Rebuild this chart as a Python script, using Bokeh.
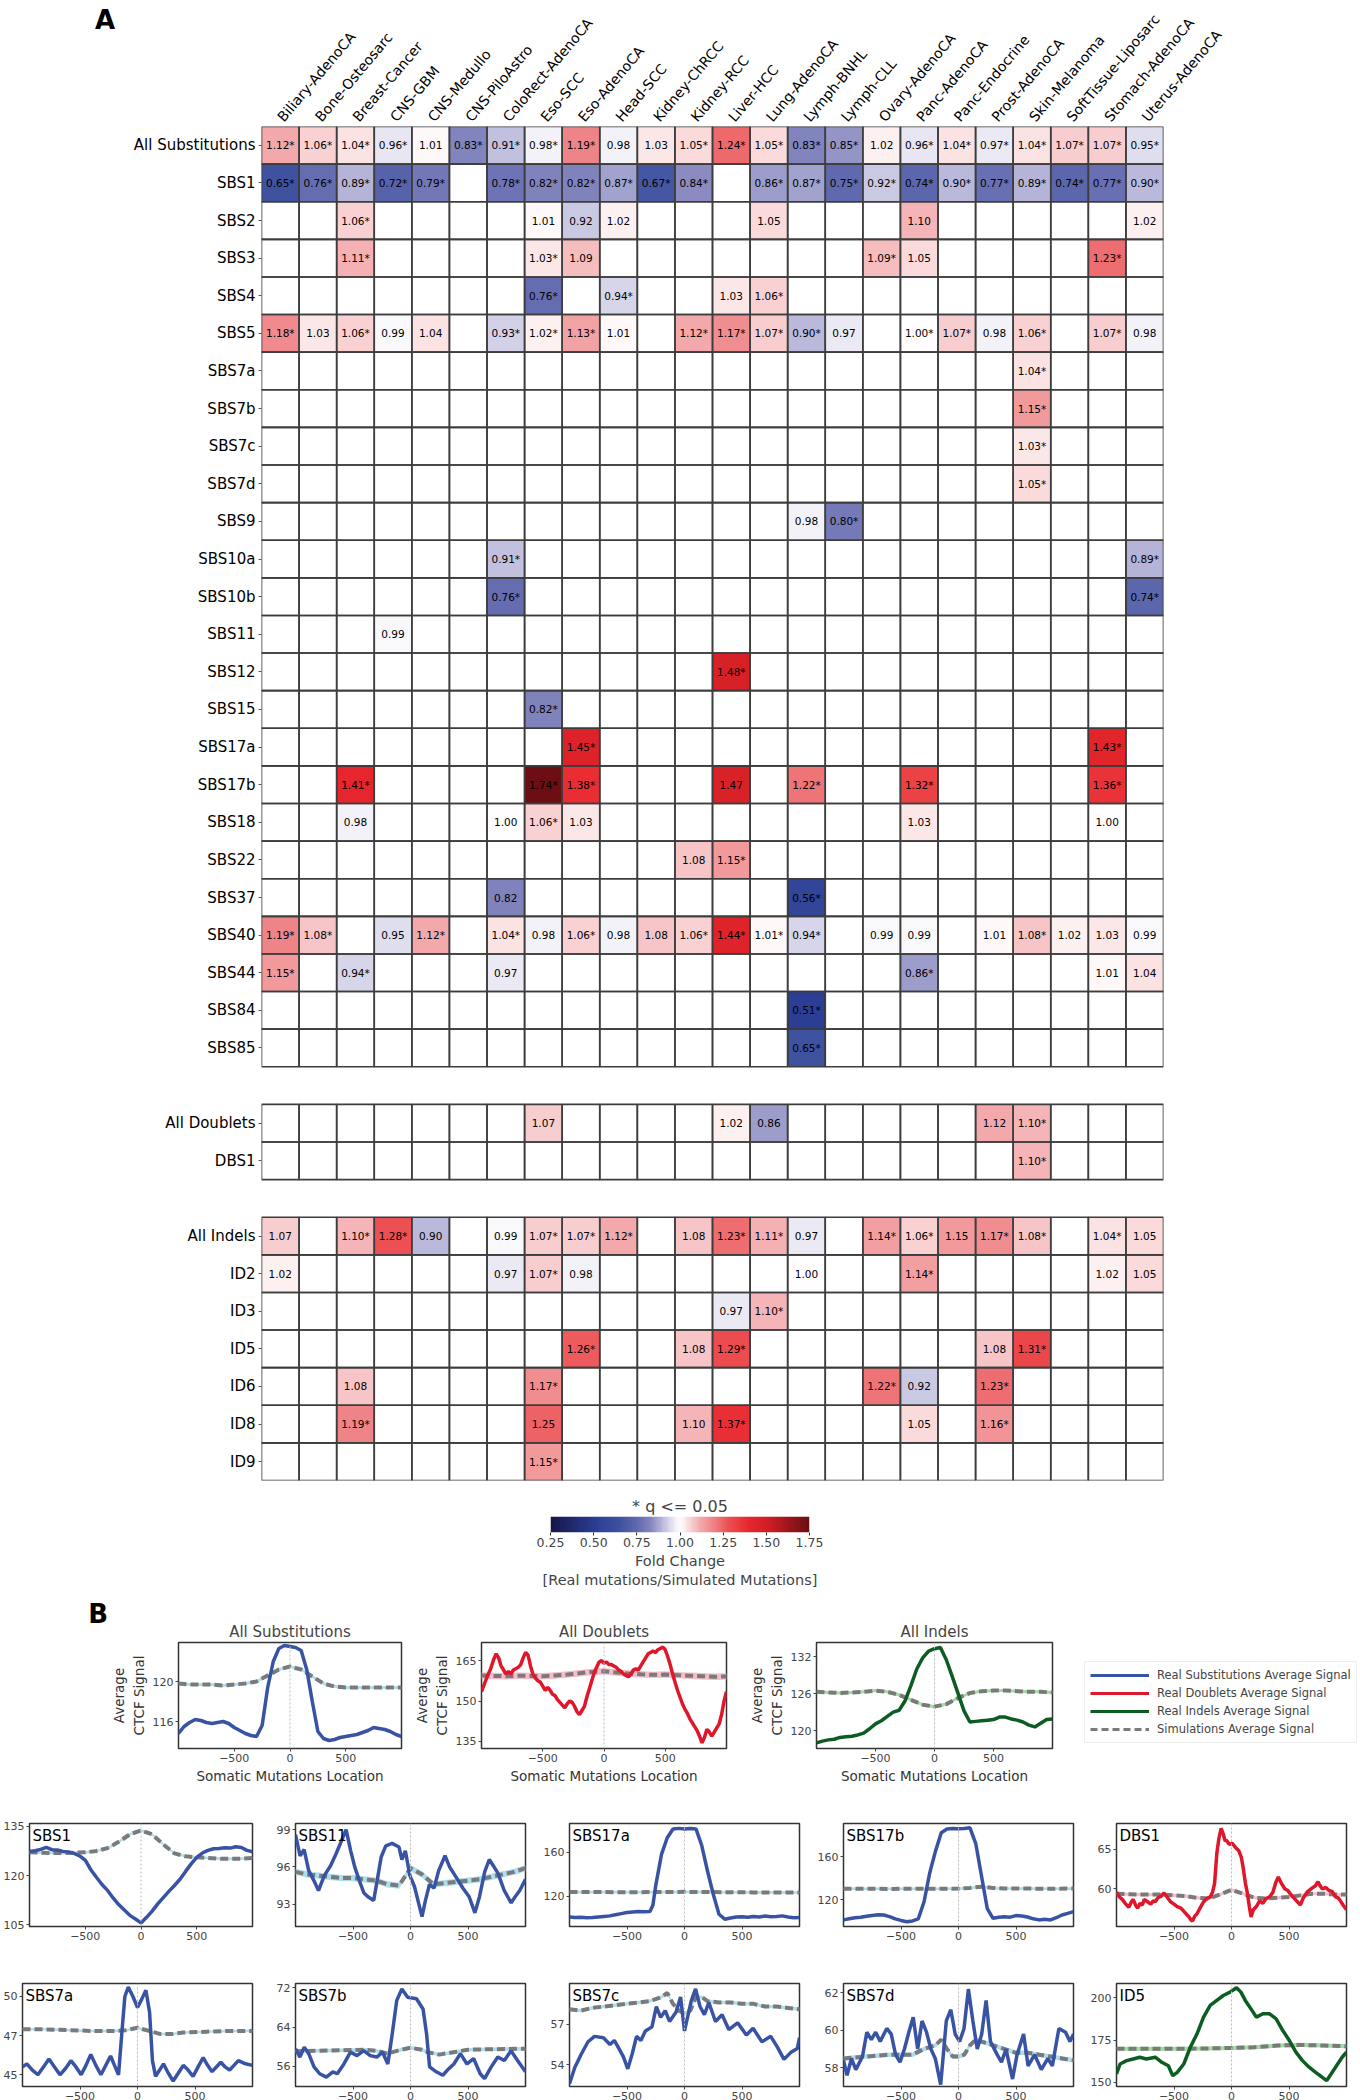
import numpy as np
from bokeh.plotting import figure
from bokeh.layouts import column, row, Spacer
from bokeh.models import (Range1d, FactorRange, FixedTicker, LinearColorMapper, ColumnDataSource,
                          Span, Legend, LegendItem, NumeralTickFormatter, Div)
from bokeh.transform import transform
from bokeh.core.properties import value
from bokeh.embed import file_html
from bokeh.resources import INLINE

FONT = "DejaVu Sans"

# ---------------------------------------------------------------- heatmap data
cancer_types = ["Biliary-AdenoCA", "Bone-Osteosarc", "Breast-Cancer", "CNS-GBM", "CNS-Medullo",
                "CNS-PiloAstro", "ColoRect-AdenoCA", "Eso-SCC", "Eso-AdenoCA", "Head-SCC",
                "Kidney-ChRCC", "Kidney-RCC", "Liver-HCC", "Lung-AdenoCA", "Lymph-BNHL",
                "Lymph-CLL", "Ovary-AdenoCA", "Panc-AdenoCA", "Panc-Endocrine", "Prost-AdenoCA",
                "Skin-Melanoma", "SoftTissue-Liposarc", "Stomach-AdenoCA", "Uterus-AdenoCA"]

all_substitutions = ["1.12*", "1.06*", "1.04*", "0.96*", "1.01", "0.83*", "0.91*", "0.98*", "1.19*", "0.98", "1.03", "1.05*",
                     "1.24*", "1.05*", "0.83*", "0.85*", "1.02", "0.96*", "1.04*", "0.97*", "1.04*", "1.07*", "1.07*", "0.95*"]
sbs1 = ["0.65*", "0.76*", "0.89*", "0.72*", "0.79*", "", "0.78*", "0.82*", "0.82*", "0.87*", "0.67*", "0.84*",
        "", "0.86*", "0.87*", "0.75*", "0.92*", "0.74*", "0.90*", "0.77*", "0.89*", "0.74*", "0.77*", "0.90*"]
sbs2 = {"Breast-Cancer": "1.06*", "Eso-SCC": "1.01", "Eso-AdenoCA": "0.92", "Head-SCC": "1.02",
        "Lung-AdenoCA": "1.05", "Panc-AdenoCA": "1.10", "Uterus-AdenoCA": "1.02"}
sbs3 = {"Breast-Cancer": "1.11*", "Eso-SCC": "1.03*", "Eso-AdenoCA": "1.09", "Ovary-AdenoCA": "1.09*",
        "Panc-AdenoCA": "1.05", "Stomach-AdenoCA": "1.23*"}
sbs4 = {"Eso-SCC": "0.76*", "Head-SCC": "0.94*", "Liver-HCC": "1.03", "Lung-AdenoCA": "1.06*"}
sbs5 = ["1.18*", "1.03", "1.06*", "0.99", "1.04", "", "0.93*", "1.02*", "1.13*", "1.01", "", "1.12*",
        "1.17*", "1.07*", "0.90*", "0.97", "", "1.00*", "1.07*", "0.98", "1.06*", "", "1.07*", "0.98"]
sbs7a = {"Skin-Melanoma": "1.04*"}
sbs7b = {"Skin-Melanoma": "1.15*"}
sbs7c = {"Skin-Melanoma": "1.03*"}
sbs7d = {"Skin-Melanoma": "1.05*"}
sbs9 = {"Lymph-BNHL": "0.98", "Lymph-CLL": "0.80*"}
sbs10a = {"ColoRect-AdenoCA": "0.91*", "Uterus-AdenoCA": "0.89*"}
sbs10b = {"ColoRect-AdenoCA": "0.76*", "Uterus-AdenoCA": "0.74*"}
sbs11 = {"CNS-GBM": "0.99"}
sbs12 = {"Liver-HCC": "1.48*"}
sbs15 = {"Eso-SCC": "0.82*"}
sbs17a = {"Eso-AdenoCA": "1.45*", "Stomach-AdenoCA": "1.43*"}
sbs17b = {"Breast-Cancer": "1.41*", "Eso-SCC": "1.74*", "Eso-AdenoCA": "1.38*", "Liver-HCC": "1.47",
          "Lymph-BNHL": "1.22*", "Panc-AdenoCA": "1.32*", "Stomach-AdenoCA": "1.36*"}
sbs18 = {"Breast-Cancer": "0.98", "ColoRect-AdenoCA": "1.00", "Eso-SCC": "1.06*", "Eso-AdenoCA": "1.03",
         "Panc-AdenoCA": "1.03", "Stomach-AdenoCA": "1.00"}
sbs22 = {"Kidney-RCC": "1.08", "Liver-HCC": "1.15*"}
sbs37 = {"ColoRect-AdenoCA": "0.82", "Lymph-BNHL": "0.56*"}
sbs40 = ["1.19*", "1.08*", "", "0.95", "1.12*", "", "1.04*", "0.98", "1.06*", "0.98", "1.08", "1.06*",
         "1.44*", "1.01*", "0.94*", "", "0.99", "0.99", "", "1.01", "1.08*", "1.02", "1.03", "0.99"]
sbs44 = {"Biliary-AdenoCA": "1.15*", "Breast-Cancer": "0.94*", "ColoRect-AdenoCA": "0.97",
         "Panc-AdenoCA": "0.86*", "Stomach-AdenoCA": "1.01", "Uterus-AdenoCA": "1.04"}
sbs84 = {"Lymph-BNHL": "0.51*"}
sbs85 = {"Lymph-BNHL": "0.65*"}
all_doublets = {"Eso-SCC": "1.07", "Liver-HCC": "1.02", "Lung-AdenoCA": "0.86", "Prost-AdenoCA": "1.12",
                "Skin-Melanoma": "1.10*"}
dbs1 = {"Skin-Melanoma": "1.10*"}
all_indels = ["1.07", "", "1.10*", "1.28*", "0.90", "", "0.99", "1.07*", "1.07*", "1.12*", "", "1.08",
              "1.23*", "1.11*", "0.97", "", "1.14*", "1.06*", "1.15", "1.17*", "1.08*", "", "1.04*", "1.05"]
id2 = {"Biliary-AdenoCA": "1.02", "ColoRect-AdenoCA": "0.97", "Eso-SCC": "1.07*", "Eso-AdenoCA": "0.98",
       "Lymph-BNHL": "1.00", "Panc-AdenoCA": "1.14*", "Stomach-AdenoCA": "1.02", "Uterus-AdenoCA": "1.05"}
id3 = {"Liver-HCC": "0.97", "Lung-AdenoCA": "1.10*"}
id5 = {"Eso-AdenoCA": "1.26*", "Kidney-RCC": "1.08", "Liver-HCC": "1.29*", "Prost-AdenoCA": "1.08",
       "Skin-Melanoma": "1.31*"}
id6 = {"Breast-Cancer": "1.08", "Eso-SCC": "1.17*", "Ovary-AdenoCA": "1.22*", "Panc-AdenoCA": "0.92",
       "Prost-AdenoCA": "1.23*"}
id8 = {"Breast-Cancer": "1.19*", "Eso-SCC": "1.25", "Kidney-RCC": "1.10", "Liver-HCC": "1.37*",
       "Panc-AdenoCA": "1.05", "Prost-AdenoCA": "1.16*"}
id9 = {"Eso-SCC": "1.15*"}

substitution_rows = [("All Substitutions", all_substitutions), ("SBS1", sbs1), ("SBS2", sbs2), ("SBS3", sbs3),
                     ("SBS4", sbs4), ("SBS5", sbs5), ("SBS7a", sbs7a), ("SBS7b", sbs7b), ("SBS7c", sbs7c),
                     ("SBS7d", sbs7d), ("SBS9", sbs9), ("SBS10a", sbs10a), ("SBS10b", sbs10b), ("SBS11", sbs11),
                     ("SBS12", sbs12), ("SBS15", sbs15), ("SBS17a", sbs17a), ("SBS17b", sbs17b), ("SBS18", sbs18),
                     ("SBS22", sbs22), ("SBS37", sbs37), ("SBS40", sbs40), ("SBS44", sbs44), ("SBS84", sbs84),
                     ("SBS85", sbs85)]
doublet_rows = [("All Doublets", all_doublets), ("DBS1", dbs1)]
indel_rows = [("All Indels", all_indels), ("ID2", id2), ("ID3", id3), ("ID5", id5), ("ID6", id6),
              ("ID8", id8), ("ID9", id9)]

colorbar_ticks = [0.25, 0.50, 0.75, 1.00, 1.25, 1.50, 1.75]

# ---------------------------------------------------------------- line panel data (x, signal)
subs_real = [(-1000, 114.8), (-950, 115.5), (-900, 115.9), (-850, 116.2), (-800, 116.1), (-750, 115.9), (-700, 115.8),
             (-650, 115.9), (-600, 116.0), (-550, 115.8), (-500, 115.4), (-450, 115.1), (-400, 114.8), (-350, 114.6),
             (-300, 114.5), (-250, 115.6), (-200, 119.4), (-150, 122.0), (-100, 123.3), (-50, 123.6), (0, 123.5),
             (50, 123.4), (100, 123.1), (150, 121.2), (200, 118.0), (250, 115.0), (300, 114.3), (350, 114.1),
             (400, 114.2), (450, 114.4), (500, 114.5), (550, 114.6), (600, 114.7), (650, 114.9), (700, 115.1),
             (750, 115.4), (800, 115.3), (850, 115.2), (900, 115.0), (950, 114.7), (1000, 114.5)]
subs_sim = [(-1000, 119.8), (-900, 119.7), (-800, 119.7), (-700, 119.7), (-600, 119.6), (-500, 119.7), (-400, 119.8),
            (-300, 120.0), (-200, 120.6), (-100, 121.2), (0, 121.5), (100, 121.2), (200, 120.5), (300, 119.8),
            (400, 119.5), (500, 119.4), (600, 119.4), (700, 119.4), (800, 119.4), (900, 119.4), (1000, 119.4)]
doub_real = [(-1000, 153.5), (-975, 156.5), (-950, 159.5), (-925, 162.0), (-900, 165.5), (-880, 167.5), (-860, 166.0),
             (-840, 163.0), (-820, 161.5), (-800, 160.0), (-780, 161.0), (-760, 160.0), (-740, 161.5), (-720, 162.0),
             (-700, 162.5), (-680, 163.5), (-660, 166.0), (-640, 168.0), (-620, 167.0), (-600, 163.0), (-580, 160.0),
             (-560, 158.5), (-540, 157.5), (-520, 157.0), (-500, 155.5), (-480, 154.0), (-460, 155.0), (-440, 154.0),
             (-420, 152.5), (-400, 152.0), (-380, 150.5), (-360, 149.5), (-340, 148.5), (-320, 147.5), (-300, 149.0),
             (-280, 150.0), (-260, 149.5), (-240, 148.0), (-220, 146.0), (-200, 145.0), (-180, 146.5), (-160, 148.0),
             (-140, 151.5), (-120, 154.5), (-100, 157.5), (-80, 160.5), (-60, 162.5), (-40, 164.5), (-20, 165.0),
             (0, 164.0), (20, 164.5), (40, 163.5), (60, 163.5), (80, 163.0), (100, 162.5), (120, 161.5), (140, 161.0),
             (160, 160.0), (180, 159.5), (200, 159.0), (220, 160.0), (240, 161.5), (260, 162.0), (280, 161.5),
             (300, 163.0), (320, 164.5), (340, 166.0), (360, 167.5), (380, 168.0), (400, 168.5), (420, 168.0),
             (440, 169.0), (460, 169.5), (480, 170.0), (500, 169.0), (520, 166.5), (540, 163.5), (560, 160.0),
             (580, 157.0), (600, 154.0), (620, 151.5), (640, 149.0), (660, 147.0), (680, 145.5), (700, 143.5),
             (720, 142.0), (740, 140.5), (760, 139.0), (780, 137.0), (800, 134.5), (820, 136.5), (840, 139.5),
             (860, 138.5), (880, 137.0), (900, 138.5), (920, 140.0), (940, 141.5), (960, 145.0), (980, 150.0),
             (1000, 153.5)]
doub_sim = [(-1000, 159.5), (-900, 159.3), (-800, 159.2), (-700, 159.4), (-600, 159.3), (-500, 159.2), (-400, 159.5),
            (-300, 159.8), (-200, 160.3), (-100, 160.8), (0, 161.0), (100, 160.6), (200, 160.2), (300, 159.9),
            (400, 159.7), (500, 159.8), (600, 159.6), (700, 159.4), (800, 159.2), (900, 159.0), (1000, 159.1)]
indel_real = [(-1000, 118.0), (-950, 118.3), (-900, 118.5), (-850, 118.6), (-800, 118.9), (-750, 119.0), (-700, 119.1),
              (-650, 119.3), (-600, 119.6), (-550, 120.3), (-500, 121.1), (-450, 121.6), (-400, 122.3), (-350, 123.0),
              (-300, 123.3), (-250, 124.8), (-200, 127.3), (-150, 130.0), (-100, 131.8), (-50, 132.9), (0, 133.3),
              (50, 133.5), (100, 131.5), (150, 128.8), (200, 126.0), (250, 123.2), (300, 121.4), (350, 121.5),
              (400, 121.6), (450, 121.7), (500, 121.8), (550, 122.2), (600, 122.2), (650, 121.9), (700, 121.7),
              (750, 121.4), (800, 120.9), (850, 120.6), (900, 121.2), (950, 121.8), (1000, 121.9)]
indel_sim = [(-1000, 126.3), (-900, 126.2), (-800, 126.1), (-700, 126.2), (-600, 126.3), (-500, 126.5), (-400, 126.3),
             (-300, 125.8), (-200, 125.0), (-100, 124.2), (0, 123.9), (100, 124.3), (200, 125.3), (300, 126.1),
             (400, 126.4), (500, 126.5), (600, 126.5), (700, 126.4), (800, 126.3), (900, 126.3), (1000, 126.2)]

sbs1_real = [(-1000, 127.4), (-950, 127.6), (-900, 128.0), (-850, 128.6), (-800, 127.9), (-750, 127.8), (-700, 127.4),
             (-650, 127.2), (-600, 126.8), (-550, 126.0), (-500, 124.7), (-450, 121.8), (-400, 119.5), (-350, 117.3),
             (-300, 115.5), (-250, 113.2), (-200, 111.2), (-150, 109.5), (-100, 107.9), (-50, 106.8), (0, 105.6),
             (50, 107.3), (100, 109.2), (150, 111.4), (200, 113.3), (250, 115.2), (300, 117.0), (350, 118.9),
             (400, 121.3), (450, 123.6), (500, 125.6), (550, 126.9), (600, 127.7), (650, 128.2), (700, 128.3),
             (750, 128.5), (800, 128.4), (850, 128.8), (900, 128.6), (950, 127.7), (1000, 127.3)]
sbs1_sim = [(-1000, 127.1), (-900, 127.0), (-800, 126.9), (-700, 126.9), (-600, 127.0), (-500, 127.1), (-400, 127.5),
            (-300, 128.4), (-200, 130.3), (-100, 132.6), (0, 133.8), (100, 132.6), (200, 129.5), (300, 126.8),
            (400, 125.9), (500, 125.6), (600, 125.4), (700, 125.2), (800, 125.1), (900, 125.2), (1000, 125.4)]
sbs11_real = [(-1000, 98.6), (-960, 96.9), (-925, 97.4), (-885, 95.7), (-840, 94.9), (-800, 94.1), (-750, 95.3),
              (-695, 96.1), (-650, 97.0), (-600, 98.1), (-560, 99.0), (-520, 97.3), (-485, 96.0), (-445, 94.9),
              (-405, 93.9), (-370, 93.6), (-320, 93.3), (-290, 94.9), (-255, 96.8), (-215, 97.7), (-160, 97.9),
              (-100, 97.6), (-75, 96.6), (-45, 97.3), (-5, 95.3), (35, 94.4), (70, 93.1), (100, 92.0), (130, 93.3),
              (165, 94.6), (205, 94.3), (245, 95.7), (300, 96.9), (340, 96.0), (395, 95.2), (455, 94.3), (510, 93.6),
              (560, 92.3), (600, 93.6), (645, 95.6), (685, 96.6), (720, 96.1), (760, 95.5), (815, 94.1), (875, 93.1),
              (910, 93.6), (950, 94.1), (1000, 95.0)]
sbs11_sim = [(-1000, 95.6), (-900, 95.4), (-800, 95.3), (-700, 95.2), (-600, 95.1), (-500, 95.1), (-400, 95.0),
             (-300, 94.9), (-200, 94.6), (-100, 94.5), (0, 95.9), (100, 95.4), (200, 94.6), (300, 94.7), (400, 94.8),
             (500, 94.9), (600, 95.0), (700, 95.2), (800, 95.4), (900, 95.6), (1000, 95.9)]
sbs17a_real = [(-1000, 101.5), (-950, 101.0), (-900, 101.3), (-850, 100.8), (-800, 101.0), (-750, 101.5), (-700, 102.0),
               (-650, 102.5), (-600, 103.5), (-550, 104.5), (-500, 105.5), (-450, 106.0), (-400, 106.5), (-350, 106.3),
               (-300, 106.5), (-275, 112.0), (-250, 130.0), (-200, 158.0), (-150, 173.0), (-100, 181.0), (-50, 181.5),
               (0, 181.0), (50, 181.3), (100, 181.0), (150, 166.0), (200, 143.0), (250, 122.0), (300, 104.0),
               (350, 99.5), (400, 100.5), (450, 101.5), (500, 101.8), (550, 101.3), (600, 102.0), (650, 101.5),
               (700, 102.3), (750, 101.8), (800, 102.0), (850, 102.5), (900, 101.5), (950, 100.8), (1000, 101.0)]
sbs17a_sim = [(-1000, 124.0), (-800, 124.0), (-600, 123.9), (-400, 123.9), (-200, 124.0), (0, 124.2), (200, 124.0),
              (400, 123.8), (600, 123.7), (800, 123.7), (1000, 123.6)]
sbs17b_real = [(-1000, 101.5), (-950, 102.5), (-900, 103.5), (-850, 104.0), (-800, 104.8), (-750, 105.5), (-700, 106.2),
               (-650, 106.0), (-600, 104.5), (-550, 102.5), (-500, 101.0), (-450, 99.8), (-400, 100.5), (-350, 102.5),
               (-300, 118.0), (-250, 145.0), (-200, 165.0), (-150, 182.0), (-100, 185.5), (-50, 185.8), (0, 185.6),
               (50, 185.9), (100, 186.5), (150, 172.0), (200, 142.0), (250, 112.0), (300, 103.0), (350, 104.0),
               (400, 104.5), (450, 104.0), (500, 105.5), (550, 105.0), (600, 104.2), (650, 102.5), (700, 101.5),
               (750, 102.0), (800, 101.5), (850, 103.5), (900, 106.0), (950, 107.5), (1000, 109.2)]
sbs17b_sim = [(-1000, 130.3), (-800, 130.2), (-600, 130.1), (-400, 130.2), (-200, 130.3), (0, 130.4), (100, 131.0),
              (200, 132.2), (300, 131.0), (400, 130.5), (600, 130.4), (800, 130.3), (1000, 130.4)]
dbs1_real = [(-1000, 59.6), (-975, 59.0), (-950, 58.7), (-925, 58.2), (-893, 57.7), (-870, 58.4), (-855, 58.7),
             (-835, 58.0), (-817, 57.6), (-795, 58.2), (-775, 58.0), (-759, 58.7), (-730, 58.4), (-702, 58.1),
             (-680, 58.5), (-664, 58.4), (-640, 58.9), (-610, 59.1), (-587, 59.5), (-560, 59.0), (-530, 58.4),
             (-500, 58.1), (-472, 57.8), (-440, 57.6), (-420, 57.3), (-396, 56.9), (-370, 56.5), (-350, 56.1),
             (-338, 56.0), (-320, 56.6), (-300, 56.9), (-270, 57.7), (-243, 58.4), (-215, 58.8), (-185, 59.0),
             (-165, 59.6), (-147, 60.7), (-128, 64.4), (-110, 66.3), (-90, 67.6), (-70, 66.8), (-55, 66.0),
             (-44, 66.1), (-20, 65.6), (6, 65.7), (35, 65.2), (63, 64.8), (85, 64.0), (101, 62.7), (120, 60.8),
             (139, 59.4), (155, 57.8), (170, 56.5), (190, 57.4), (216, 57.8), (245, 58.5), (273, 58.2), (300, 58.8),
             (331, 59.0), (360, 59.6), (385, 60.8), (407, 61.5), (430, 60.8), (465, 60.0), (490, 59.8), (522, 59.2),
             (560, 58.6), (599, 58.0), (625, 58.9), (657, 59.6), (700, 60.1), (730, 60.4), (752, 60.9), (775, 60.3),
             (790, 60.0), (820, 60.2), (847, 59.8), (875, 59.7), (905, 59.0), (925, 58.9), (943, 58.6), (970, 58.0),
             (1000, 57.4)]
dbs1_sim = [(-1000, 59.4), (-800, 59.3), (-600, 59.3), (-400, 59.1), (-300, 58.9), (-200, 58.8), (-100, 59.3),
            (0, 59.9), (100, 59.4), (200, 58.9), (300, 58.8), (400, 58.9), (500, 59.0), (600, 59.2), (700, 59.4),
            (800, 59.4), (900, 59.3), (1000, 59.3)]
sbs7a_real = [(-1000, 45.5), (-962, 45.7), (-914, 45.3), (-866, 45.0), (-818, 45.5), (-770, 46.0), (-722, 45.5),
              (-674, 45.0), (-626, 45.4), (-579, 45.9), (-535, 45.5), (-490, 45.0), (-448, 45.6), (-406, 46.3),
              (-362, 45.6), (-318, 45.0), (-276, 45.6), (-234, 46.2), (-200, 45.6), (-165, 45.0), (-138, 47.5),
              (-110, 50.0), (-80, 50.6), (-40, 50.0), (0, 49.3), (35, 49.8), (73, 50.4), (105, 49.0), (130, 45.9),
              (157, 44.9), (192, 45.3), (226, 45.7), (268, 45.1), (310, 44.6), (354, 45.1), (398, 45.6), (440, 45.3),
              (483, 44.9), (527, 45.5), (571, 46.1), (610, 45.6), (648, 45.2), (686, 45.5), (724, 45.8), (762, 45.5),
              (801, 45.3), (839, 45.6), (877, 45.9), (940, 45.7), (1000, 45.6)]
sbs7a_sim = [(-1000, 47.9), (-800, 47.9), (-600, 47.85), (-400, 47.8), (-200, 47.8), (-100, 47.85), (0, 48.0),
             (100, 47.8), (200, 47.6), (300, 47.6), (400, 47.7), (600, 47.75), (800, 47.8), (1000, 47.8)]
sbs7b_real = [(-1000, 59.6), (-962, 57.9), (-924, 59.9), (-885, 58.6), (-839, 55.9), (-790, 54.5), (-732, 53.8),
              (-675, 54.9), (-637, 54.5), (-579, 56.5), (-522, 58.9), (-465, 58.2), (-407, 59.2), (-350, 58.2),
              (-293, 57.9), (-243, 58.9), (-197, 56.5), (-159, 62.6), (-120, 69.4), (-75, 71.8), (-25, 70.1),
              (52, 69.8), (109, 67.7), (140, 62.6), (166, 55.9), (224, 54.9), (281, 54.2), (319, 55.2), (377, 56.5),
              (434, 58.6), (491, 56.5), (549, 57.6), (606, 54.5), (644, 53.5), (702, 55.9), (759, 57.9), (816, 57.2),
              (874, 59.2), (931, 57.2), (1000, 54.9)]
sbs7b_sim = [(-1000, 59.1), (-800, 59.2), (-600, 59.3), (-400, 59.4), (-300, 59.2), (-200, 58.6), (-100, 59.3),
             (0, 59.8), (100, 59.4), (150, 58.9), (250, 58.4), (400, 59.0), (500, 59.4), (700, 59.5), (1000, 59.6)]
sbs7c_real = [(-1000, 52.6), (-954, 53.8), (-897, 54.8), (-839, 55.7), (-782, 56.1), (-705, 56.0), (-648, 55.5),
              (-610, 55.8), (-570, 55.2), (-532, 54.6), (-493, 53.7), (-455, 54.8), (-417, 56.1), (-379, 55.8),
              (-340, 56.5), (-283, 56.8), (-245, 58.3), (-207, 57.5), (-168, 58.0), (-130, 57.2), (-73, 57.9),
              (-34, 59.0), (0, 56.5), (58, 58.7), (96, 59.6), (135, 58.3), (173, 57.7), (212, 58.6), (269, 57.2),
              (327, 57.7), (385, 56.6), (462, 57.1), (538, 56.2), (596, 56.7), (673, 55.7), (750, 56.1), (808, 55.3),
              (865, 54.4), (923, 54.9), (981, 55.2), (1000, 56.0)]
sbs7c_sim = [(-1000, 58.1), (-900, 58.0), (-800, 58.2), (-600, 58.4), (-400, 58.6), (-300, 58.7), (-200, 59.0),
             (-150, 59.3), (-100, 58.5), (-50, 58.0), (0, 57.8), (50, 58.0), (100, 59.0), (150, 59.0), (200, 58.7),
             (300, 58.6), (400, 58.6), (500, 58.5), (600, 58.5), (700, 58.3), (800, 58.3), (900, 58.2), (1000, 58.1)]
sbs7d_real = [(-1000, 58.4), (-969, 57.6), (-931, 58.5), (-893, 57.9), (-835, 58.6), (-797, 59.9), (-758, 59.5),
              (-720, 59.9), (-681, 59.4), (-624, 60.1), (-585, 59.8), (-547, 58.7), (-509, 58.3), (-470, 59.0),
              (-432, 59.9), (-394, 60.7), (-355, 59.0), (-317, 60.5), (-278, 59.9), (-240, 59.0), (-202, 58.5),
              (-155, 57.1), (-106, 60.5), (-67, 61.1), (-29, 59.8), (10, 59.4), (48, 60.1), (86, 62.2), (125, 60.5),
              (163, 59.0), (202, 59.8), (240, 61.6), (278, 59.4), (336, 58.7), (374, 58.3), (413, 59.0), (470, 57.4),
              (509, 58.7), (566, 59.8), (605, 58.1), (662, 58.7), (720, 57.9), (777, 58.5), (816, 58.1), (873, 60.1),
              (931, 59.9), (969, 59.4), (1000, 59.8)]
sbs7d_sim = [(-1000, 58.5), (-800, 58.6), (-600, 58.7), (-400, 58.7), (-300, 59.0), (-200, 59.2), (-150, 59.5),
             (-100, 59.0), (-50, 58.6), (0, 58.6), (50, 58.7), (100, 59.2), (150, 59.5), (200, 59.4), (300, 59.2),
             (400, 59.0), (500, 58.8), (600, 58.8), (700, 58.7), (800, 58.6), (900, 58.5), (1000, 58.4)]
id5_real = [(-1000, 155.0), (-969, 160.9), (-912, 162.9), (-855, 163.9), (-797, 164.9), (-740, 163.9), (-663, 164.9),
            (-606, 161.9), (-549, 159.9), (-511, 154.0), (-472, 156.0), (-415, 160.9), (-358, 170.8), (-300, 178.7),
            (-243, 188.6), (-185, 195.5), (-128, 198.5), (-71, 201.4), (-13, 203.4), (44, 206.0), (82, 203.4),
            (120, 198.5), (178, 192.6), (216, 188.6), (273, 190.6), (331, 190.6), (388, 187.6), (446, 180.7),
            (503, 174.8), (560, 167.9), (617, 162.9), (675, 159.0), (732, 156.0), (790, 153.0), (828, 151.1),
            (866, 155.0), (923, 160.9), (962, 164.9), (1000, 167.9)]
id5_sim = [(-1000, 169.9), (-800, 169.9), (-600, 169.9), (-400, 169.9), (-200, 170.1), (0, 170.4), (200, 170.8),
           (400, 171.8), (600, 172.2), (800, 171.8), (1000, 171.4)]

# ---------------------------------------------------------------- styles
BLUE, RED, GREEN = "#3953a4", "#e0162b", "#0d5c22"
BAND_BLUE, BAND_RED, BAND_GREEN = "#a8dcee", "#f5b8c6", "#98dc98"
SIM_GRAY = "#7a7a7a"

stops = [(0.25, "#16164a"), (0.50, "#2a3d93"), (0.65, "#3f52a0"), (0.75, "#6069ae"), (0.83, "#8485be"),
         (0.90, "#bcbadc"), (0.96, "#e6e5f1"), (1.00, "#ffffff"), (1.04, "#fbe1e2"), (1.12, "#f3a8ab"),
         (1.20, "#ef8084"), (1.28, "#ec5052"), (1.40, "#e8262d"), (1.50, "#d41f26"), (1.75, "#6b0f12")]


def hex2rgb(h):
    return np.array([int(h[i:i + 2], 16) for i in (1, 3, 5)], dtype=float)


def build_palette(n=256):
    sv = np.array([s[0] for s in stops])
    sc = np.array([hex2rgb(s[1]) for s in stops])
    out = []
    for t in np.linspace(0.25, 1.75, n):
        rgb = [np.interp(t, sv, sc[:, k]) for k in range(3)]
        out.append("#%02x%02x%02x" % tuple(int(round(c)) for c in rgb))
    return out


mapper = LinearColorMapper(palette=build_palette(), low=0.25, high=1.75)


def letter_div(letter, w, h, pad_top):
    return Div(text=letter, width=w, height=h, margin=0,
               styles={"font-family": FONT, "font-size": "26px", "font-weight": "bold", "color": "black",
                       "text-align": "right", "padding-top": "%dpx" % pad_top, "line-height": "1.2",
                       "box-sizing": "border-box"})


# ---------------------------------------------------------------- heatmap figure
def entries(d):
    if isinstance(d, dict):
        return [(k, v) for k, v in d.items()]
    return [(cancer_types[i], v) for i, v in enumerate(d) if v]


row_pos, row_names = [], []
cx, cy, cv, ct = [], [], [], []
gx, gy = [], []
pos = 0
for bi, block in enumerate([substitution_rows, doublet_rows, indel_rows]):
    if bi > 0:
        pos += 1
    for name, d in block:
        row_pos.append(pos)
        row_names.append(name)
        for c in cancer_types:
            gx.append(c)
            gy.append(pos)
        for c, v in entries(d):
            cx.append(c)
            cy.append(pos)
            cv.append(float(v.rstrip("*")))
            ct.append(v)
        pos += 1
n_rows = pos

hm = figure(width=1245, height=1488, x_range=FactorRange(*cancer_types),
            y_range=Range1d(n_rows - 0.5, -0.5), x_axis_location="above",
            min_border_left=146, min_border_right=197, min_border_top=126, min_border_bottom=8,
            toolbar_location=None, tools="", output_backend="svg")
hm.xgrid.visible = False
hm.ygrid.visible = False
hm.outline_line_color = None
cell_src = ColumnDataSource(dict(x=cx, y=cy, v=cv, t=ct))
hm.rect(x="x", y="y", width=1, height=1, source=cell_src, fill_color=transform("v", mapper), line_color=None)
hm.rect(x=gx, y=gy, width=1, height=1, fill_alpha=0, line_color="#3d3d3d", line_width=1.6)
hm.text(x="x", y="y", text="t", source=cell_src, text_align="center", text_baseline="middle",
        text_font=value(FONT), text_font_size="10.5px", text_color="black")
ya = hm.yaxis[0]
ya.ticker = FixedTicker(ticks=row_pos)
ya.major_label_overrides = {p: n for p, n in zip(row_pos, row_names)}
ya.axis_line_color = None
ya.major_tick_line_color = "#555555"
ya.major_tick_out = 3
ya.major_tick_in = 0
ya.minor_tick_line_color = None
ya.major_label_text_font = FONT
ya.major_label_text_font_size = "15px"
ya.major_label_text_color = "black"
ya.major_label_standoff = 3
xa = hm.xaxis[0]
xa.axis_line_color = None
xa.major_tick_line_color = None
xa.major_label_orientation = 0.87
xa.major_label_text_font = FONT
xa.major_label_text_font_size = "14px"
xa.major_label_text_color = "black"
xa.major_label_standoff = 1

a_div = letter_div("A", 115, 1488, 5)

# ---------------------------------------------------------------- colour bar
cb = figure(width=379, height=104, x_range=Range1d(0.25, 1.75), y_range=Range1d(0, 1), y_axis_type=None,
            min_border_left=60, min_border_right=60, min_border_top=28, min_border_bottom=60,
            toolbar_location=None, tools="", output_backend="svg", title="* q <= 0.05")
cb.xgrid.visible = False
cb.ygrid.visible = False
cb.outline_line_color = None
cb.image(image=[np.array([np.linspace(0.25, 1.75, 300)])], x=0.25, y=0, dw=1.5, dh=1, color_mapper=mapper)
cb.title.align = "center"
cb.title.text_font = FONT
cb.title.text_font_size = "16px"
cb.title.text_font_style = "normal"
cb.title.standoff = 2
cxa = cb.xaxis[0]
cxa.ticker = FixedTicker(ticks=colorbar_ticks)
cxa.formatter = NumeralTickFormatter(format="0.00")
cxa.axis_line_color = None
cxa.major_tick_line_color = "#333333"
cxa.major_tick_out = 3
cxa.major_tick_in = 0
cxa.minor_tick_line_color = None
cxa.major_label_text_font = FONT
cxa.major_label_text_font_size = "12.5px"
cxa.major_label_standoff = 2
cxa.axis_label = "Fold Change\n[Real mutations/Simulated Mutations]"
cxa.axis_label_text_font = FONT
cxa.axis_label_text_font_size = "14.5px"
cxa.axis_label_text_font_style = "normal"
cxa.axis_label_standoff = 3


# ---------------------------------------------------------------- line panels
def style_axis(a, size="11px"):
    a.axis_line_color = None
    a.major_tick_line_color = "#444444"
    a.major_tick_out = 3
    a.major_tick_in = 0
    a.minor_tick_line_color = None
    a.major_label_text_font = FONT
    a.major_label_text_font_size = size
    a.major_label_text_color = "#444444"
    a.major_label_standoff = 2


def line_panel(real, sim, ci, ylim, yticks, color, band, w, h, lb, rb, tb, bb,
               title=None, name=None, xlabel=None, ylabel=None, overrides=None):
    kw = dict(title=title) if title else {}
    p = figure(width=w, height=h, x_range=Range1d(-1000, 1000), y_range=Range1d(*ylim),
               min_border_left=lb, min_border_right=rb, min_border_top=tb, min_border_bottom=bb,
               toolbar_location=None, tools="", output_backend="svg", **kw)
    p.xgrid.visible = False
    p.ygrid.visible = False
    p.outline_line_color = "#333333"
    p.outline_line_width = 1.5
    p.add_layout(Span(location=0, dimension="height", line_color="#bdbdbd", line_dash="2 2", line_width=1))
    sx = [a for a, b in sim]
    sy = [b for a, b in sim]
    p.varea(x=sx, y1=[v - ci for v in sy], y2=[v + ci for v in sy], fill_color=band, fill_alpha=0.95)
    p.line(x=sx, y=sy, line_color=SIM_GRAY, line_width=4, line_dash="8 4")
    p.line(x=[a for a, b in real], y=[b for a, b in real], line_color=color, line_width=3.5)
    style_axis(p.xaxis[0])
    style_axis(p.yaxis[0])
    p.xaxis[0].ticker = FixedTicker(ticks=[-500, 0, 500])
    p.xaxis[0].major_label_overrides = {-500: "\u2212500"}
    p.yaxis[0].ticker = FixedTicker(ticks=yticks)
    if overrides:
        p.yaxis[0].major_label_overrides = overrides
    if title:
        p.title.align = "center"
        p.title.text_font = FONT
        p.title.text_font_size = "15px"
        p.title.text_font_style = "normal"
        p.title.standoff = 3
    if name:
        p.text(x=[-1000], y=[ylim[1]], text=[name], x_offset=3, y_offset=3, text_align="left",
               text_baseline="top", text_font=value(FONT), text_font_size="15px", text_color="black")
    for a, lab in ((p.xaxis[0], xlabel), (p.yaxis[0], ylabel)):
        if lab:
            a.axis_label = lab
            a.axis_label_text_font = FONT
            a.axis_label_text_font_size = "13.5px"
            a.axis_label_text_font_style = "normal"
            a.axis_label_text_color = "#333333"
            a.axis_label_standoff = 3
    return p


XL = "Somatic Mutations Location"
YL = "Average\nCTCF Signal"
b_div = letter_div("B", 108, 194, 7)
p_subs = line_panel(subs_real, subs_sim, 0.15, (113.3, 123.9), [116, 120], BLUE, BAND_BLUE, 303, 194, 57, 10, 50, 38,
                    title="All Substitutions", xlabel=XL, ylabel=YL)
p_doub = line_panel(doub_real, doub_sim, 1.2, (132.4, 171.7), [135, 150, 165], RED, BAND_RED, 325, 194, 67, 10, 50, 38,
                    title="All Doublets", xlabel=XL, ylabel=YL)
p_indel = line_panel(indel_real, indel_sim, 0.25, (117.1, 134.3), [120, 126, 132], GREEN, BAND_GREEN, 326, 194, 80, 10,
                     50, 38, title="All Indels", xlabel=XL, ylabel=YL)

lf = figure(width=298, height=194, x_axis_type=None, y_axis_type=None, toolbar_location=None, tools="",
            output_backend="svg", min_border_left=3, min_border_top=50, min_border_right=0, min_border_bottom=38,
            x_range=Range1d(0, 1), y_range=Range1d(0, 1))
lf.outline_line_color = None
lf.xgrid.visible = False
lf.ygrid.visible = False
nan = [float("nan")]
r1 = lf.line(x=nan, y=nan, line_color=BLUE, line_width=3)
r2 = lf.line(x=nan, y=nan, line_color=RED, line_width=3)
r3 = lf.line(x=nan, y=nan, line_color=GREEN, line_width=3)
r4 = lf.line(x=nan, y=nan, line_color=SIM_GRAY, line_width=3, line_dash="7 4")
leg = Legend(items=[LegendItem(label="Real Substitutions Average Signal", renderers=[r1]),
                    LegendItem(label="Real Doublets Average Signal", renderers=[r2]),
                    LegendItem(label="Real Indels Average Signal", renderers=[r3]),
                    LegendItem(label="Simulations Average Signal", renderers=[r4])],
             location="top_left")
leg.label_text_font = FONT
leg.label_text_font_size = "11.5px"
leg.glyph_width = 59
leg.glyph_height = 16
leg.label_height = 16
leg.spacing = 2
leg.padding = 5
leg.margin = 19
leg.label_standoff = 8
leg.border_line_color = "#dddddd"
leg.background_fill_color = "white"
lf.add_layout(leg)

widths = [260, 273, 274, 274, 279]
lbs = [22, 35, 36, 36, 35]
rbs = [8, 8, 8, 8, 14]
row1_specs = [("SBS1", sbs1_real, sbs1_sim, 0.4, (104.5, 135.9), [105, 120, 135], BLUE, BAND_BLUE, None),
              ("SBS11", sbs11_real, sbs11_sim, 0.25, (91.2, 99.5), [93, 96, 99], BLUE, BAND_BLUE, None),
              ("SBS17a", sbs17a_real, sbs17a_sim, 1.2, (92.9, 185.9), [120, 160], BLUE, BAND_BLUE, None),
              ("SBS17b", sbs17b_real, sbs17b_sim, 1.2, (95.4, 190.5), [120, 160], BLUE, BAND_BLUE, None),
              ("DBS1", dbs1_real, dbs1_sim, 0.2, (55.3, 68.2), [60, 65], RED, BAND_RED, None)]
row2_specs = [("SBS7a", sbs7a_real, sbs7a_sim, 0.08, (44.25, 50.83), [45, 47.5, 50], BLUE, BAND_BLUE, {47.5: "47"}),
              ("SBS7b", sbs7b_real, sbs7b_sim, 0.35, (51.9, 72.9), [56, 64, 72], BLUE, BAND_BLUE, None),
              ("SBS7c", sbs7c_real, sbs7c_sim, 0.12, (52.4, 60.0), [54, 57], BLUE, BAND_BLUE, None),
              ("SBS7d", sbs7d_real, sbs7d_sim, 0.12, (57.0, 62.5), [58, 60, 62], BLUE, BAND_BLUE, None),
              ("ID5", id5_real, id5_sim, 1.2, (147.6, 208.5), [150, 175, 200], GREEN, BAND_GREEN, None)]

row1 = [line_panel(r, s, ci, yl, yt, c, bd, widths[i], 170, lbs[i], rbs[i], 37, 30, name=n, overrides=ov)
        for i, (n, r, s, ci, yl, yt, c, bd, ov) in enumerate(row1_specs)]
row2 = [line_panel(r, s, ci, yl, yt, c, bd, widths[i], 146, lbs[i], rbs[i], 27, 16, name=n, overrides=ov)
        for i, (n, r, s, ci, yl, yt, c, bd, ov) in enumerate(row2_specs)]

layout = column(row(a_div, hm, spacing=0),
                row(Spacer(width=490, height=104), cb, spacing=0),
                row(b_div, p_subs, p_doub, p_indel, lf, spacing=0),
                row(*row1, spacing=0),
                row(*row2, spacing=0),
                spacing=0)

open("out.html", "w").write(file_html(layout, INLINE, title="CTCF heatmap"))
